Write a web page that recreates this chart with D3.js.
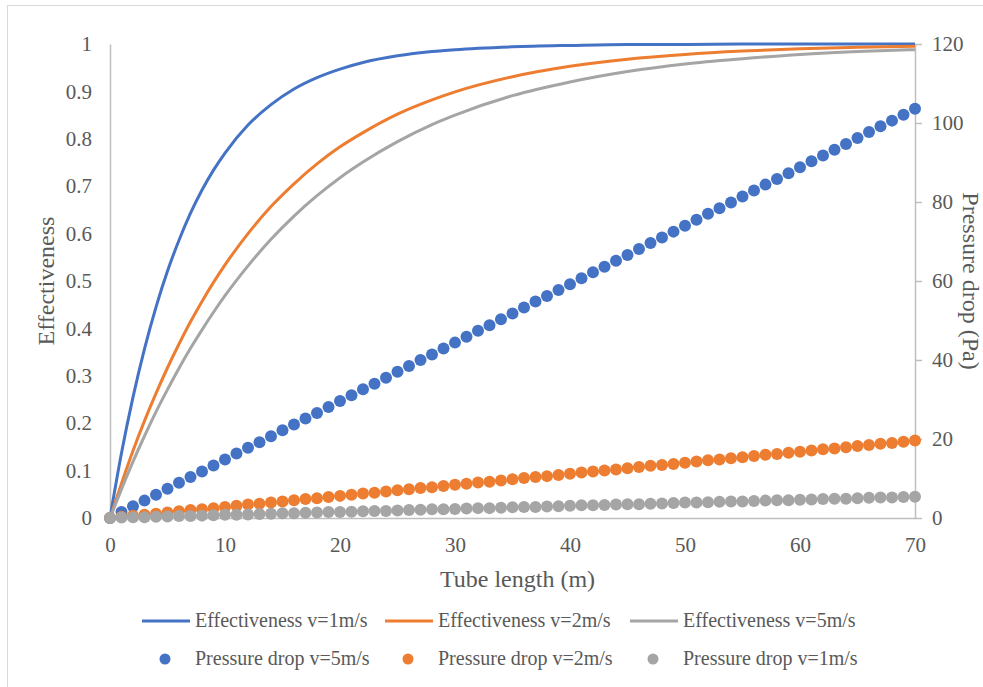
<!DOCTYPE html>
<html>
<head>
<meta charset="utf-8">
<script src="https://cdn.jsdelivr.net/npm/d3@7"></script>
<style>
  body { margin: 0; background: #fff; }
  svg text { font-family: "Liberation Serif", "Times New Roman", serif; fill: #595959; }
</style>
</head>
<body>
<svg id="chart" width="983" height="687" font-family="Liberation Serif, Times New Roman, serif"></svg>
<script>
// effectiveness curves at selected tube lengths (m)
var effLength = [0, 1, 2, 3, 4, 5, 6, 7, 8, 9, 10, 12, 14, 16, 18, 20, 22, 25, 28, 30, 35, 40, 45, 50, 55, 60, 65, 70];
var eff1 = [0, 0.137, 0.255, 0.357, 0.445, 0.521, 0.586, 0.643, 0.692, 0.734, 0.770, 0.829, 0.872, 0.905, 0.929, 0.947, 0.961, 0.975, 0.984, 0.988, 0.994, 0.997, 0.999, 0.999, 1, 1, 1, 1];
var eff2 = [0, 0.073, 0.142, 0.205, 0.263, 0.317, 0.367, 0.414, 0.457, 0.497, 0.534, 0.600, 0.657, 0.705, 0.747, 0.783, 0.813, 0.852, 0.882, 0.899, 0.931, 0.953, 0.968, 0.978, 0.985, 0.990, 0.993, 0.995];
var eff5 = [0, 0.061, 0.119, 0.173, 0.224, 0.271, 0.316, 0.358, 0.397, 0.434, 0.469, 0.532, 0.588, 0.637, 0.680, 0.718, 0.751, 0.794, 0.830, 0.850, 0.891, 0.920, 0.942, 0.958, 0.969, 0.978, 0.984, 0.988];

// pressure drop (Pa), one point per metre, 0..70
var dpLength = d3.range(0, 71);
var dp5 = [0, 1.5, 3.0, 4.4, 5.9, 7.4, 8.9, 10.4, 11.8, 13.3, 14.8, 16.3, 17.8, 19.2, 20.7, 22.2, 23.7, 25.2, 26.6, 28.1,
  29.6, 31.1, 32.6, 34.0, 35.5, 37.0, 38.5, 40.0, 41.4, 42.9, 44.4, 45.9, 47.4, 48.8, 50.3, 51.8, 53.3, 54.8, 56.2, 57.7,
  59.2, 60.7, 62.2, 63.6, 65.1, 66.6, 68.1, 69.6, 71.0, 72.5, 74.0, 75.5, 77.0, 78.4, 79.9, 81.4, 82.9, 84.4, 85.8, 87.3,
  88.8, 90.3, 91.8, 93.2, 94.7, 96.2, 97.7, 99.2, 100.6, 102.1, 103.6];
var dp2 = [0, 0.3, 0.6, 0.8, 1.1, 1.4, 1.7, 2.0, 2.2, 2.5, 2.8, 3.1, 3.4, 3.6, 3.9, 4.2, 4.5, 4.8, 5.0, 5.3,
  5.6, 5.9, 6.2, 6.4, 6.7, 7.0, 7.3, 7.6, 7.8, 8.1, 8.4, 8.7, 9.0, 9.2, 9.5, 9.8, 10.1, 10.4, 10.6, 10.9,
  11.2, 11.5, 11.8, 12.0, 12.3, 12.6, 12.9, 13.2, 13.4, 13.7, 14.0, 14.3, 14.6, 14.8, 15.1, 15.4, 15.7, 16.0, 16.2, 16.5,
  16.8, 17.1, 17.4, 17.6, 17.9, 18.2, 18.5, 18.8, 19.0, 19.3, 19.6];
var dp1 = [0, 0.1, 0.2, 0.2, 0.3, 0.4, 0.5, 0.5, 0.6, 0.7, 0.8, 0.8, 0.9, 1.0, 1.1, 1.2, 1.2, 1.3, 1.4, 1.5,
  1.5, 1.6, 1.7, 1.8, 1.8, 1.9, 2.0, 2.1, 2.2, 2.2, 2.3, 2.4, 2.5, 2.5, 2.6, 2.7, 2.8, 2.8, 2.9, 3.0,
  3.1, 3.2, 3.2, 3.3, 3.4, 3.5, 3.5, 3.6, 3.7, 3.8, 3.9, 3.9, 4.0, 4.1, 4.2, 4.2, 4.3, 4.4, 4.5, 4.5,
  4.6, 4.7, 4.8, 4.9, 4.9, 5.0, 5.1, 5.2, 5.2, 5.3, 5.4];

var xTicks = [0, 10, 20, 30, 40, 50, 60, 70];
var leftTicks = [0, 0.1, 0.2, 0.3, 0.4, 0.5, 0.6, 0.7, 0.8, 0.9, 1];
var rightTicks = [0, 20, 40, 60, 80, 100, 120];

var blue = '#4472C4', orange = '#ED7D31', gray = '#A5A5A5';
var serif = 'Liberation Serif, Times New Roman, serif';

var lineSeries = [
  {name: 'Effectiveness v=1m/s', values: eff1, color: blue},
  {name: 'Effectiveness v=2m/s', values: eff2, color: orange},
  {name: 'Effectiveness v=5m/s', values: eff5, color: gray}
];
var dotSeries = [
  {name: 'Pressure drop v=5m/s', values: dp5, color: blue},
  {name: 'Pressure drop v=2m/s', values: dp2, color: orange},
  {name: 'Pressure drop v=1m/s', values: dp1, color: gray}
];

var svg = d3.select('#chart');

var plot_left = 110, plot_right = 915, plot_top = 44, plot_bottom = 518;

var x = d3.scaleLinear().domain([0, 70]).range([plot_left, plot_right]);
var yL = d3.scaleLinear().domain([0, 1]).range([plot_bottom, plot_top]);
var yR = d3.scaleLinear().domain([0, 120]).range([plot_bottom, plot_top]);

// outer chart border
svg.append('rect')
  .attr('x', 7.5).attr('y', 5.5)
  .attr('width', 1000).attr('height', 700)
  .attr('fill', 'none').attr('stroke', '#D9D9D9').attr('stroke-width', 1);

function styleTicks(g) {
  g.attr('font-family', serif);
  g.select('.domain').attr('stroke', '#BFBFBF').attr('stroke-width', 1.5);
  g.selectAll('line').attr('stroke', '#BFBFBF').attr('stroke-width', 1.5);
  g.selectAll('text')
    .attr('font-family', serif)
    .style('font-family', serif)
    .style('font-size', '21px')
    .attr('fill', '#595959');
}

// left axis
var gL = svg.append('g').attr('transform', 'translate(' + plot_left + ',0)')
  .call(d3.axisLeft(yL).tickValues(leftTicks).tickSize(0).tickPadding(18)
    .tickFormat(function(d) { return d === 0 || d === 1 ? d : d3.format('.1f')(d); }));
styleTicks(gL);

// right axis
var gR = svg.append('g').attr('transform', 'translate(' + plot_right + ',0)')
  .call(d3.axisRight(yR).tickValues(rightTicks).tickSize(7).tickPadding(10).tickSizeOuter(0));
styleTicks(gR);

// bottom axis
var gB = svg.append('g').attr('transform', 'translate(0,' + plot_bottom + ')')
  .call(d3.axisBottom(x).tickValues(xTicks).tickSize(0).tickPadding(19));
styleTicks(gB);

// axis titles
function title(t) {
  return t.attr('text-anchor', 'middle')
    .attr('font-family', serif)
    .style('font-family', serif)
    .style('font-size', '24px')
    .attr('fill', '#595959');
}

title(svg.append('text')
  .attr('transform', 'translate(54,' + ((plot_top + plot_bottom) / 2) + ') rotate(-90)'))
  .text('Effectiveness');

title(svg.append('text')
  .attr('transform', 'translate(963,' + ((plot_top + plot_bottom) / 2) + ') rotate(90)'))
  .text('Pressure drop (Pa)');

title(svg.append('text')
  .attr('x', (plot_left + plot_right) / 2 + 5).attr('y', 587))
  .text('Tube length (m)');

// effectiveness lines
var line = d3.line()
  .x(function(d, i) { return x(effLength[i]); })
  .y(function(d) { return yL(d); })
  .curve(d3.curveMonotoneX);

svg.selectAll('.eff').data(lineSeries).enter().append('path')
  .attr('class', 'eff')
  .attr('d', function(s) { return line(s.values); })
  .attr('fill', 'none')
  .attr('stroke', function(s) { return s.color; })
  .attr('stroke-width', 3);

// pressure drop dots
dotSeries.forEach(function(s) {
  svg.append('g').selectAll('circle').data(s.values).enter().append('circle')
    .attr('cx', function(d, i) { return x(dpLength[i]); })
    .attr('cy', function(d) { return yR(d); })
    .attr('r', 6)
    .attr('fill', s.color);
});

// legend
var legend = svg.append('g');
var legX = [142, 385, 630];

lineSeries.forEach(function(s, i) {
  legend.append('line')
    .attr('x1', legX[i]).attr('x2', legX[i] + 48)
    .attr('y1', 621).attr('y2', 621)
    .attr('stroke', s.color).attr('stroke-width', 3);
  legend.append('text')
    .attr('x', legX[i] + 53).attr('y', 627)
    .attr('font-family', serif)
    .style('font-family', serif)
    .style('font-size', '20px')
    .text(s.name);
});

dotSeries.forEach(function(s, i) {
  legend.append('circle')
    .attr('cx', legX[i] + 23).attr('cy', 659)
    .attr('r', 5.5)
    .attr('fill', s.color);
  legend.append('text')
    .attr('x', legX[i] + 53).attr('y', 665)
    .attr('font-family', serif)
    .style('font-family', serif)
    .style('font-size', '20px')
    .text(s.name);
});
</script>
</body>
</html>
